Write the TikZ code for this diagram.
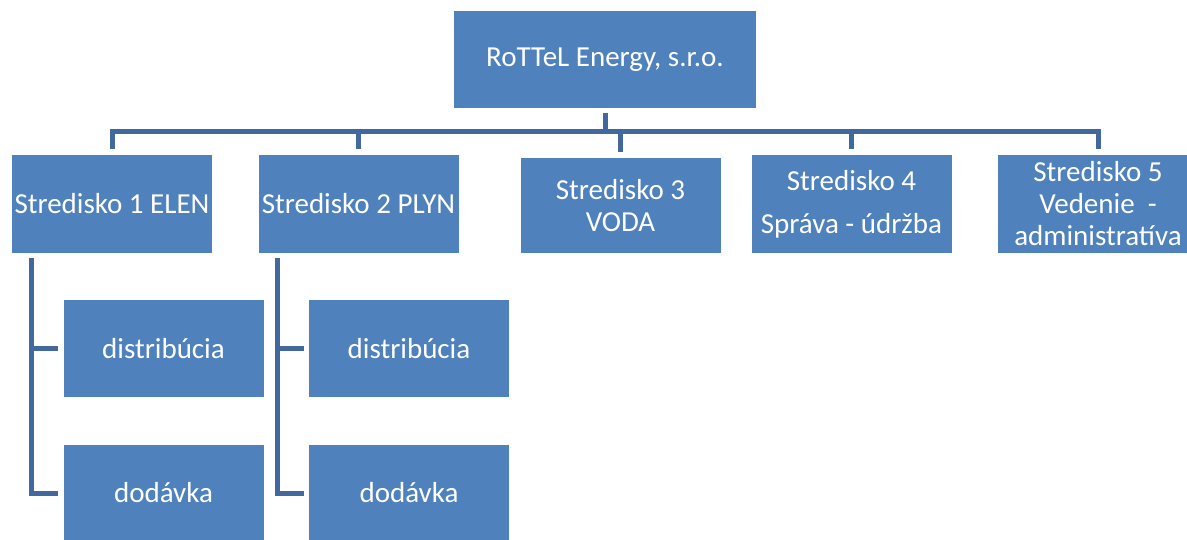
\documentclass[tikz,border=0pt]{standalone}
\usepackage{fontspec}
\setmainfont{Carlito}
\usepackage{tikz}
\definecolor{boxblue}{HTML}{4F81BD}
\definecolor{lineblue}{HTML}{41699D}

\begin{document}
\begin{tikzpicture}[x=1pt,y=-1pt]
\useasboundingbox (0,0) rectangle (1187,540);
\begin{scope}[every node/.style={fill=boxblue,text=white,align=center,
        minimum width=200pt,minimum height=98pt,inner sep=0pt,outer sep=5.5pt,
        font=\fontsize{29}{32}\selectfont}]
    \node[minimum width=302pt,minimum height=97pt] (r) at (605,59.5) {RoTTeL Energy, s.r.o.};
    \node (s1) at (112,204) {Stredisko 1 ELEN};
    \node (s2) at (358.5,204) {Stredisko 2 PLYN};
    \node[minimum height=95pt] (s3) at (620.5,205.5) {Stredisko 3\\VODA};
    \node (s4) at (851.5,204) {Stredisko 4\\[11pt]Správa - údržba};
    \node (s5) at (1098,204) {Stredisko 5\\Vedenie\ \ -\\administratíva};
    \node[minimum height=97pt] (d1) at (163.5,348.5) {distribúcia};
    \node[minimum height=97pt] (o1) at (163.5,493) {dodávka};
    \node[minimum height=97pt] (d2) at (409,348.5) {distribúcia};
    \node[minimum height=97pt] (o2) at (409,493) {dodávka};
\end{scope}

\begin{scope}[lineblue,line width=5pt]
    \coordinate (bus) at (0,132);
    \foreach \s in {s1,s2,s3,s4,s5}
        \draw (r.south) -- (r.south |- bus) -| (\s.north);
    \foreach \s/\c in {s1/d1,s1/o1,s2/d2,s2/o2}
        \draw ([xshift=24.5pt]\s.south west) |- (\c.west);
\end{scope}
\end{tikzpicture}
\end{document}
